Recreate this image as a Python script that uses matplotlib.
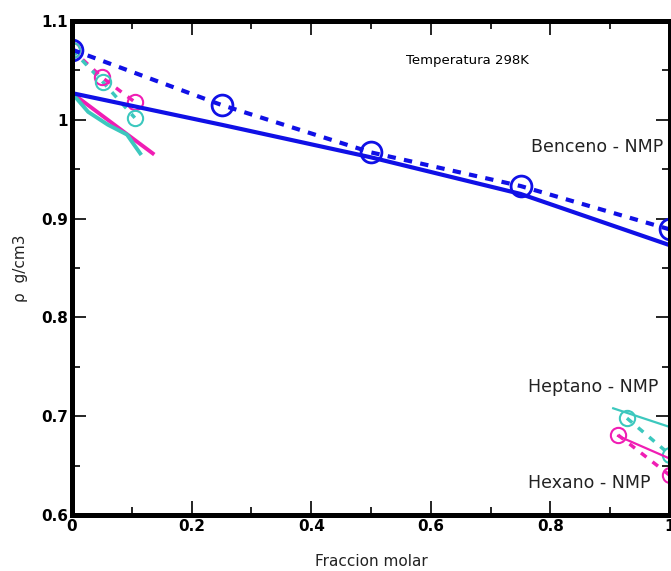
import matplotlib
matplotlib.use("Agg")
import matplotlib.pyplot as plt
from matplotlib.ticker import MultipleLocator, FixedLocator

# BENCENO - NMP (blue)
benc_x = [0.0, 0.25, 0.5, 0.75, 1.0]
benc_exp = [1.071, 1.015, 0.967, 0.933, 0.889]
benc_fit_x = [0.0, 0.25, 0.5, 0.75, 1.0]
benc_fit = [1.027, 0.995, 0.962, 0.925, 0.873]

# LEFT CLUSTER (cyan / magenta)
cyan_l_x = [0.0, 0.052, 0.105]
cyan_l_exp = [1.071, 1.038, 1.002]
mag_l_x = [0.0, 0.05, 0.105]
mag_l_exp = [1.071, 1.043, 1.018]
cyan_l_fit_x = [0.0, 0.027, 0.06, 0.092, 0.1, 0.114]
cyan_l_fit = [1.027, 1.008, 0.995, 0.985, 0.978, 0.966]
mag_l_fit_x = [0.0, 0.135]
mag_l_fit = [1.027, 0.966]

# HEPTANO - NMP (cyan) and HEXANO - NMP (magenta)
hept_x = [0.928, 1.0]
hept_exp = [0.698, 0.661]
hept_fit_x = [0.905, 1.0]
hept_fit = [0.708, 0.689]
hex_x = [0.913, 1.0]
hex_exp = [0.681, 0.640]
hex_fit_x = [0.913, 1.0]
hex_fit = [0.680, 0.657]

blue = "#1010e6"
cyan = "#3cc8be"
mag = "#f01eb4"

fig = plt.figure(figsize=(6.71, 5.71), dpi=100)
ax = fig.add_axes([72 / 671, 1 - 515 / 571, 598 / 671, 494 / 571])

# left cluster
ax.plot(mag_l_x, mag_l_exp, "--", color=mag, lw=2.5, dashes=(2, 2.2))
ax.plot(cyan_l_x, cyan_l_exp, "--", color=cyan, lw=2.5, dashes=(2, 2.2))
ax.plot(mag_l_x, mag_l_exp, "o", color=mag, mfc="none", ms=11, mew=1.5)
ax.plot(cyan_l_x, cyan_l_exp, "o", color=cyan, mfc="none", ms=11, mew=1.5)
ax.plot(mag_l_fit_x, mag_l_fit, "-", color=mag, lw=2.8)
ax.plot(cyan_l_fit_x, cyan_l_fit, "-", color=cyan, lw=2.8)

# right cluster
ax.plot(hept_fit_x, hept_fit, "-", color=cyan, lw=1.6)
ax.plot(hept_x, hept_exp, "--", color=cyan, lw=2.5, dashes=(2, 2.2))
ax.plot(hept_x, hept_exp, "o", color=cyan, mfc="none", ms=11, mew=1.5)
ax.plot(hex_fit_x, hex_fit, "-", color=mag, lw=1.6)
ax.plot(hex_x, hex_exp, "--", color=mag, lw=2.5, dashes=(2, 2.2))
ax.plot(hex_x, hex_exp, "o", color=mag, mfc="none", ms=11, mew=1.5)

# benceno
ax.plot(benc_fit_x, benc_fit, "-", color=blue, lw=3)
ax.plot(benc_x, benc_exp, "--", color=blue, lw=3, dashes=(2, 2))
ax.plot(benc_x, benc_exp, "o", color=blue, mfc="none", ms=15, mew=2)

ax.set_xlim(0, 1)
ax.set_ylim(0.6, 1.1)

ax.xaxis.set_major_locator(FixedLocator([0, 0.2, 0.4, 0.6, 0.8, 1.0]))
ax.xaxis.set_minor_locator(MultipleLocator(0.1))
ax.yaxis.set_major_locator(FixedLocator([0.6, 0.7, 0.8, 0.9, 1.0, 1.1]))
ax.yaxis.set_minor_locator(MultipleLocator(0.05))
ax.set_xticklabels(["0", "0.2", "0.4", "0.6", "0.8", "1"])
ax.set_yticklabels(["0.6", "0.7", "0.8", "0.9", "1", "1.1"])
ax.tick_params(which="both", direction="in", top=True, right=True,
               width=1.2, labelsize=11, pad=3)
ax.tick_params(which="major", length=10)
ax.tick_params(which="minor", length=6)
for lab in ax.get_xticklabels() + ax.get_yticklabels():
    lab.set_fontweight("bold")

for s in ax.spines.values():
    s.set_linewidth(3.6)

# TEXTS
ax.text(0.558, 1.06, "Temperatura 298K", fontsize=9.5, va="center")
ax.text(0.768, 0.972, "Benceno - NMP", fontsize=12.5, va="center", color="#222222")
ax.text(0.762, 0.730, "Heptano - NMP", fontsize=12.5, va="center", color="#222222")
ax.text(0.762, 0.632, "Hexano - NMP", fontsize=12.5, va="center", color="#222222")

ax.set_xlabel("Fraccion molar", fontsize=11, color="#222222", labelpad=14)
ax.set_ylabel("\u03c1  g/cm3", fontsize=11, color="#222222", labelpad=9)

fig.savefig("out.png", dpi=100)
